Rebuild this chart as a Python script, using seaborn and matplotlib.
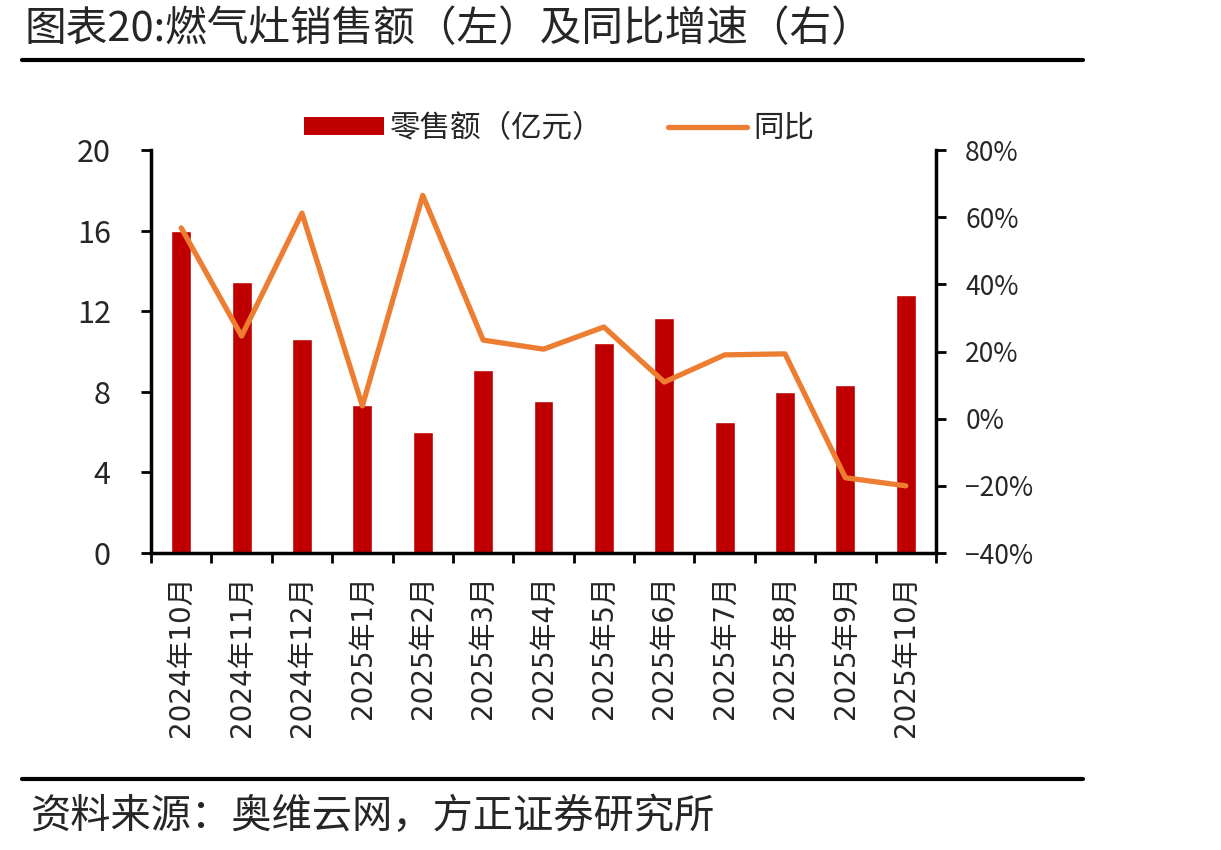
import numpy as np
import pandas as pd
import matplotlib
matplotlib.use('Agg')
import matplotlib.pyplot as plt
import seaborn as sns
from matplotlib.ticker import FuncFormatter, MultipleLocator
from matplotlib.lines import Line2D
from matplotlib.patches import Patch

months = ['2024年10月', '2024年11月', '2024年12月', '2025年1月', '2025年2月', '2025年3月',
          '2025年4月', '2025年5月', '2025年6月', '2025年7月', '2025年8月', '2025年9月', '2025年10月']
sales = [16.0, 13.45, 10.6, 7.35, 6.0, 9.08, 7.54, 10.4, 11.66, 6.5, 7.99, 8.34, 12.8]
yoy = [56.8, 24.6, 61.2, 3.8, 66.5, 23.4, 20.7, 27.3, 10.9, 19.0, 19.3, -17.6, -20.0]

bar_color = '#C00000'
line_color = '#ED7D31'

sns.set_theme(style='white')
plt.rcParams['font.family'] = ['Noto Sans CJK SC', 'DejaVu Sans']
plt.rcParams['axes.unicode_minus'] = True

df = pd.DataFrame({'month': months, 'sales': sales, 'yoy': yoy})

fig = plt.figure(figsize=(12.21, 8.5), dpi=100)
ax = fig.add_axes([0.1237, 0.3494, 0.6429, 0.4741])

sns.barplot(data=df, x='month', y='sales', color=bar_color, saturation=1, width=0.33, ax=ax)
ax.set_xlim(-0.5, 12.5)
ax.set_ylim(0, 20)
ax.yaxis.set_major_locator(MultipleLocator(4))
ax.set_xlabel('')
ax.set_ylabel('')

ax2 = ax.twinx()
sns.lineplot(x=np.arange(len(months)), y=df['yoy'], color=line_color, linewidth=3.8, ax=ax2)
ax2.set_ylim(-40, 80)
ax2.yaxis.set_major_locator(MultipleLocator(20))
ax2.yaxis.set_major_formatter(FuncFormatter(lambda v, p: f'{v:.0f}%'.replace('-', '\u2212')))
ax2.set_ylabel('')
ax2.set_xlim(-0.5, 12.5)

# ticks between categories, labels at the bar centres
ax.set_xticks(np.arange(-0.5, 13, 1), minor=False)
ax.set_xticklabels([])
ax.set_xticks(np.arange(13), minor=True)
ax.set_xticklabels(months, minor=True, rotation=90, fontsize=20,
                   family=['DejaVu Sans', 'Noto Sans CJK SC'])
ax.tick_params(axis='x', which='major', direction='out', length=7, width=2, color='black')
ax.tick_params(axis='x', which='minor', length=0, pad=16)
ax.tick_params(axis='y', direction='out', length=7, width=2, color='black', labelsize=22, pad=22)
ax2.tick_params(axis='y', direction='out', length=7, width=2, color='black', labelsize=19, pad=14)

for a in (ax, ax2):
    for s in a.spines.values():
        s.set_visible(False)
ax.spines['left'].set_visible(True)
ax.spines['bottom'].set_visible(True)
ax2.spines['right'].set_visible(True)
for s in (ax.spines['left'], ax.spines['bottom'], ax2.spines['right']):
    s.set_color('black')
    s.set_linewidth(2.5)
ax.yaxis.set_ticks_position('left')
ax.xaxis.set_ticks_position('bottom')

handles = [Patch(facecolor=bar_color, edgecolor='none'),
           Line2D([], [], color=line_color, linewidth=3.8, solid_capstyle='round')]
fig.legend(handles, ['零售额（亿元）', '同比'], loc='center', bbox_to_anchor=(0.458, 0.849),
           ncol=2, frameon=False, fontsize=22, handlelength=2.6, handleheight=0.5,
           columnspacing=2.1, handletextpad=0.2)

fig.text(0.02, 0.965, '图表20:燃气灶销售额（左）及同比增速（右）', fontsize=30, va='center', ha='left')
fig.add_artist(Line2D([0.018, 0.887], [0.929, 0.929], color='black', linewidth=3))
fig.add_artist(Line2D([0.018, 0.887], [0.083, 0.083], color='black', linewidth=3))
fig.text(0.025, 0.04, '资料来源：奥维云网，方正证券研究所', fontsize=29, va='center', ha='left', style='italic')

fig.savefig('out.png', dpi=100)
